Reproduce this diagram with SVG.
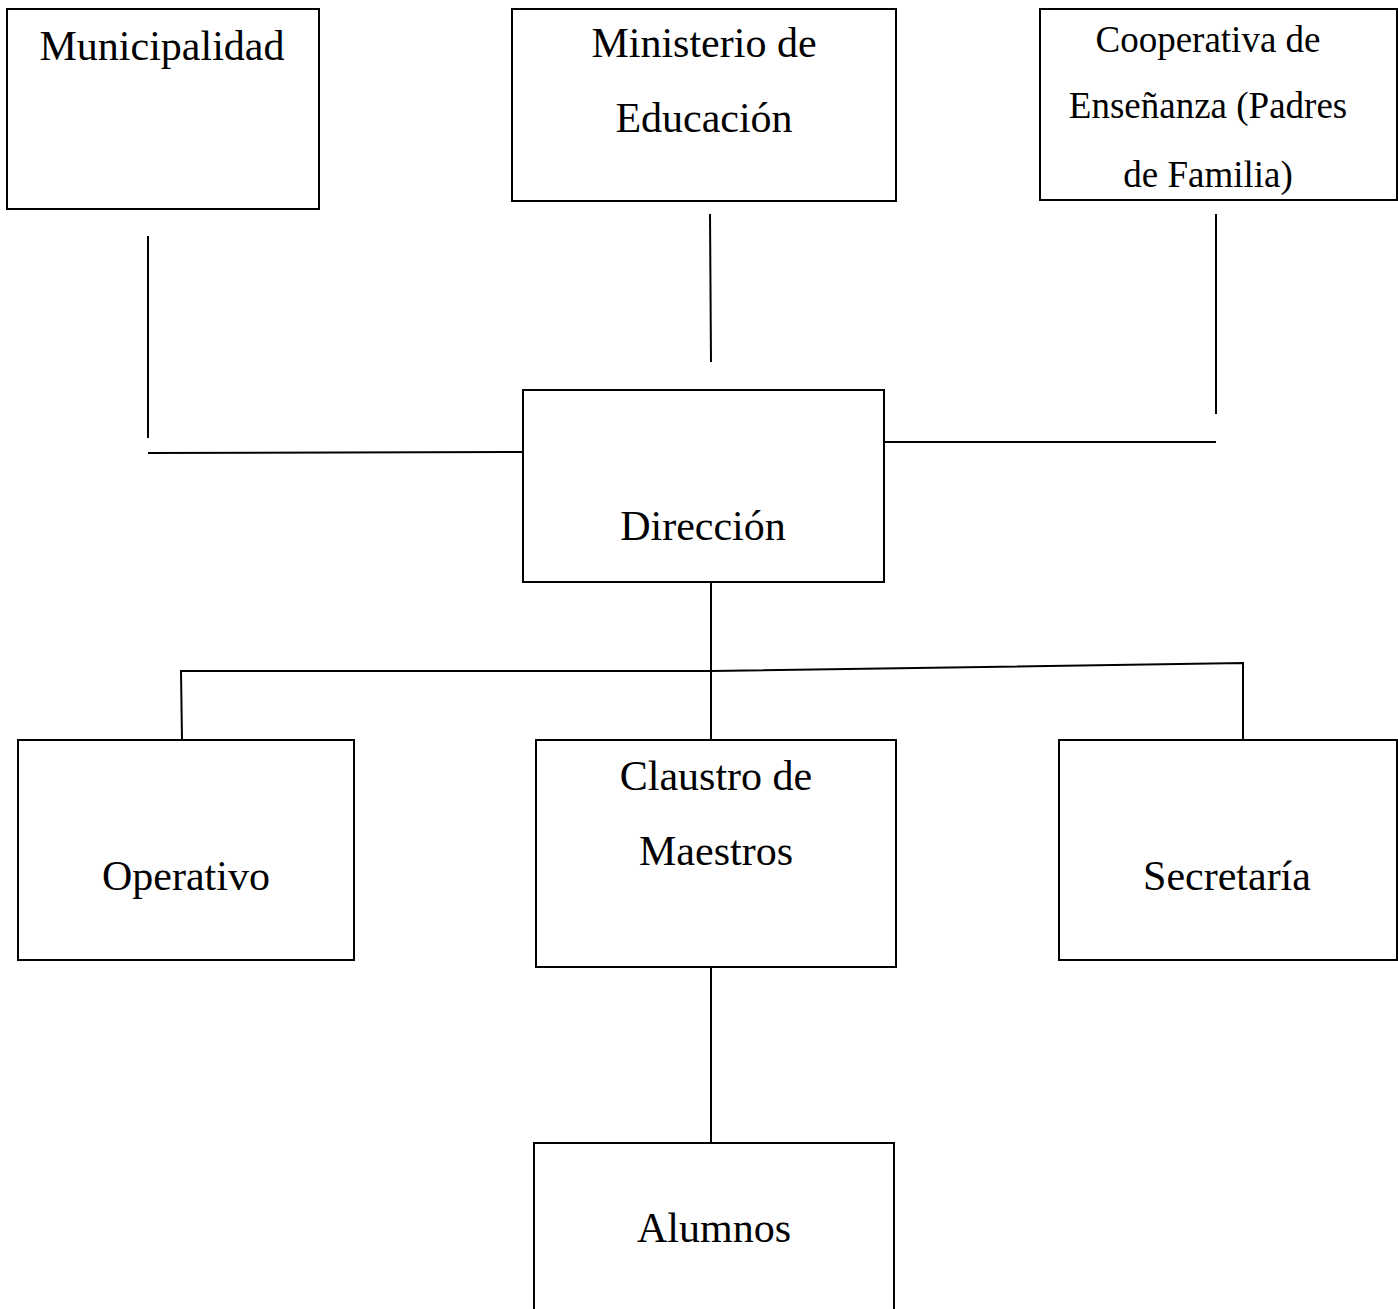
<svg xmlns="http://www.w3.org/2000/svg" width="1398" height="1309" viewBox="0 0 1398 1309">
<style>
.box{fill:#fff;stroke:#000;stroke-width:2}
.ln{stroke:#000;stroke-width:2;fill:none}
text{font-family:"Liberation Serif","Times New Roman",serif;font-size:42px;fill:#000;text-anchor:middle}
.sm{font-size:37px}
</style>
<rect width="1398" height="1309" fill="#fff"/>
<g id="connectors">
<line class="ln" x1="148" y1="236" x2="148" y2="438"/>
<line class="ln" x1="148" y1="453" x2="523" y2="452"/>
<line class="ln" x1="710" y1="214" x2="711" y2="362"/>
<line class="ln" x1="1216" y1="214" x2="1216" y2="414"/>
<line class="ln" x1="884" y1="442" x2="1216" y2="442"/>
<line class="ln" x1="711" y1="582" x2="711" y2="740"/>
<polyline class="ln" points="182,740 181,671 711,671 1243,663 1243,740"/>
<line class="ln" x1="711" y1="967" x2="711" y2="1143"/>
</g>
<g id="municipalidad"><rect class="box" x="7" y="9" width="312" height="200"/><text x="162" y="60">Municipalidad</text></g>
<g id="ministerio"><rect class="box" x="512" y="9" width="384" height="192"/><text x="704" y="57">Ministerio de</text><text x="704" y="132">Educación</text></g>
<g id="cooperativa"><rect class="box" x="1040" y="9" width="357" height="191"/><text class="sm" x="1208" y="52">Cooperativa de</text><text class="sm" x="1208" y="118">Enseñanza (Padres</text><text class="sm" x="1208" y="187">de Familia)</text></g>
<g id="direccion"><rect class="box" x="523" y="390" width="361" height="192"/><text x="703" y="540">Dirección</text></g>
<g id="operativo"><rect class="box" x="18" y="740" width="336" height="220"/><text x="186" y="890">Operativo</text></g>
<g id="claustro"><rect class="box" x="536" y="740" width="360" height="227"/><text x="716" y="790">Claustro de</text><text x="716" y="865">Maestros</text></g>
<g id="secretaria"><rect class="box" x="1059" y="740" width="338" height="220"/><text x="1227" y="890">Secretaría</text></g>
<g id="alumnos"><rect class="box" x="534" y="1143" width="360" height="180"/><text x="714" y="1242">Alumnos</text></g>
</svg>
